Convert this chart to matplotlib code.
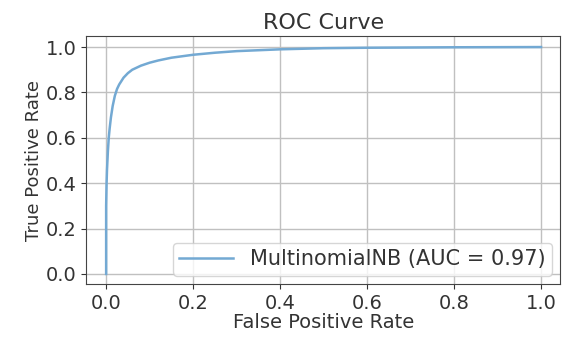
import matplotlib.pyplot as plt

# ROC points
fpr = [0.0, 0.0, 0.001, 0.002, 0.004, 0.006, 0.008, 0.011, 0.015, 0.02, 0.025, 0.03, 0.04,
       0.05, 0.06, 0.08, 0.1, 0.12, 0.15, 0.2, 0.25, 0.3, 0.4, 0.5, 0.6, 0.8, 1.0]
tpr = [0.0, 0.3, 0.4, 0.46, 0.54, 0.6, 0.64, 0.69, 0.74, 0.785, 0.815, 0.835, 0.865,
       0.885, 0.9, 0.918, 0.931, 0.941, 0.953, 0.966, 0.975, 0.982, 0.99, 0.995, 0.997, 0.999, 1.0]
label = "MultinomialNB (AUC = 0.97)"

fig, ax = plt.subplots(figsize=(5.63, 3.38), dpi=100)
ax.plot(fpr, tpr, color="#73a9d3", lw=1.8, label=label)
ax.set_xlim(-0.046, 1.044)
ax.set_ylim(-0.044, 1.048)
ax.set_xticks([0, 0.2, 0.4, 0.6, 0.8, 1.0])
ax.set_yticks([0, 0.2, 0.4, 0.6, 0.8, 1.0])
ax.tick_params(labelsize=14, colors="#333333")
for s in ax.spines.values():
    s.set_color("#444444")
ax.grid(True, color="#c0c0c0", lw=1)
ax.set_title("ROC Curve", fontsize=16, color="#333333", pad=5)
ax.set_xlabel("False Positive Rate", fontsize=14, color="#333333", labelpad=0)
ax.set_ylabel("True Positive Rate", fontsize=13, color="#333333", labelpad=2)
leg = ax.legend(loc="lower right", fontsize=15, handlelength=2.6, borderaxespad=0.4,
                borderpad=0.3, labelcolor="#333333")
plt.subplots_adjust(left=0.153, right=0.995, top=0.893, bottom=0.16)
plt.savefig("out.png")
